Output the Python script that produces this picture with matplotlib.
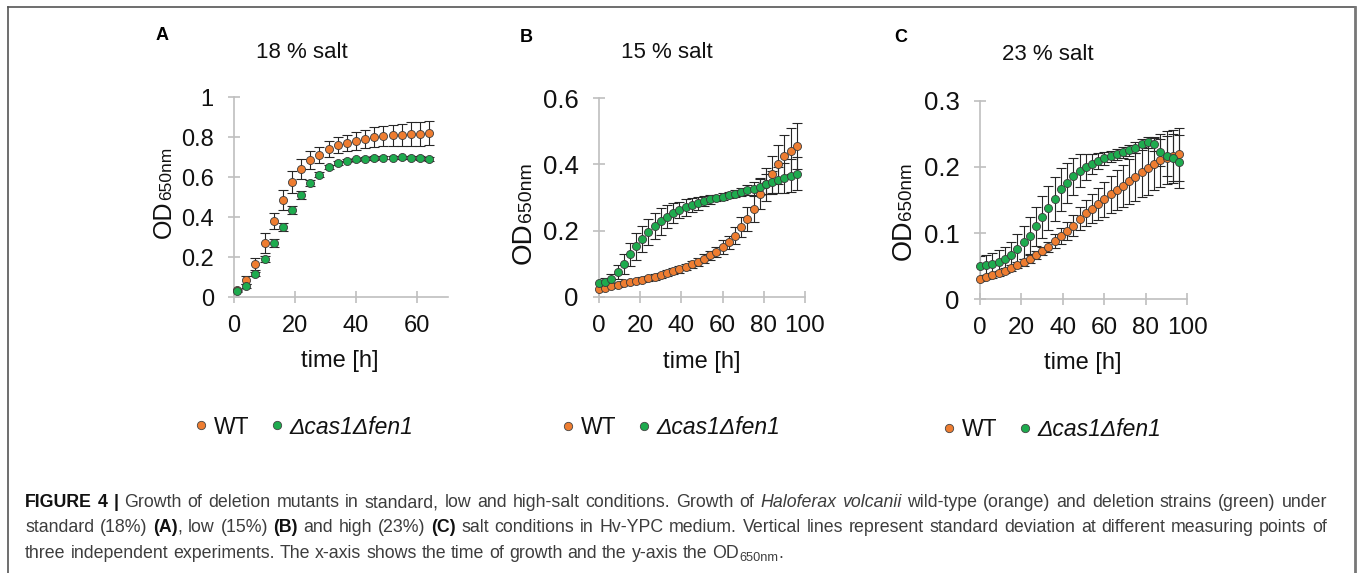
"""
Figure 4: growth curves of H. volcanii WT vs deletion strain at three salt concentrations.
"""
import matplotlib
matplotlib.use('Agg')
import matplotlib.pyplot as plt
from matplotlib.lines import Line2D

plt.rcParams['font.family'] = ['Liberation Sans', 'DejaVu Sans']

W, H = 1357, 573
ORANGE = '#ee7d31'
GREEN = '#1eab4e'
AXIS_GREY = '#bfbfbf'

# ---- data ----
t_A = [1, 4, 7, 10, 13, 16, 19, 22, 25, 28, 31, 34, 37, 40, 43, 46, 49, 52, 55, 58, 61, 64]
wt_A = [0.033, 0.084, 0.167, 0.27, 0.38, 0.485, 0.575, 0.64, 0.685, 0.71, 0.74,
        0.76, 0.77, 0.78, 0.79, 0.80, 0.805, 0.808, 0.81, 0.815, 0.816, 0.818]
wt_A_sd = [0.005, 0.02, 0.03, 0.05, 0.04, 0.05, 0.053, 0.048, 0.045, 0.042, 0.04,
           0.04, 0.042, 0.045, 0.047, 0.05, 0.052, 0.054, 0.056, 0.058, 0.06, 0.06]
del_A = [0.028, 0.055, 0.117, 0.19, 0.27, 0.35, 0.435, 0.51, 0.57, 0.612, 0.652,
         0.67, 0.682, 0.689, 0.692, 0.695, 0.697, 0.697, 0.699, 0.697, 0.695, 0.69]
del_A_sd = [0.005, 0.008, 0.01, 0.015, 0.018, 0.02, 0.02, 0.018, 0.015, 0.012, 0.01,
            0.01, 0.008, 0.008, 0.008, 0.008, 0.008, 0.008, 0.008, 0.008, 0.008, 0.008]

t_B = [0, 3, 6, 9, 12, 15, 18, 21, 24, 27, 30, 33, 36, 39, 42, 45, 48,
       51, 54, 57, 60, 63, 66, 69, 72, 75, 78, 81, 84, 87, 90, 93, 96]
wt_B = [0.022, 0.027, 0.032, 0.036, 0.04, 0.044, 0.048, 0.052, 0.056, 0.06, 0.065,
        0.071, 0.077, 0.083, 0.09, 0.098, 0.105, 0.115, 0.125, 0.135, 0.15, 0.165,
        0.185, 0.21, 0.235, 0.265, 0.31, 0.34, 0.37, 0.40, 0.425, 0.44, 0.455]
wt_B_sd = [0.005, 0.005, 0.005, 0.006, 0.006, 0.006, 0.007, 0.007, 0.008, 0.008, 0.008,
           0.009, 0.009, 0.01, 0.01, 0.011, 0.012, 0.013, 0.014, 0.016, 0.02, 0.02,
           0.025, 0.03, 0.035, 0.04, 0.045, 0.05, 0.055, 0.06, 0.065, 0.07, 0.07]
del_B = [0.04, 0.045, 0.055, 0.075, 0.10, 0.128, 0.152, 0.175, 0.195, 0.213, 0.228,
         0.242, 0.253, 0.262, 0.27, 0.277, 0.283, 0.289, 0.294, 0.299, 0.303, 0.307,
         0.312, 0.317, 0.322, 0.327, 0.333, 0.34, 0.346, 0.353, 0.36, 0.366, 0.372]
del_B_sd = [0.01, 0.012, 0.015, 0.02, 0.03, 0.035, 0.04, 0.04, 0.04, 0.04, 0.04,
            0.035, 0.03, 0.025, 0.025, 0.02, 0.02, 0.015, 0.015, 0.01, 0.01, 0.01,
            0.01, 0.012, 0.015, 0.02, 0.025, 0.03, 0.035, 0.04, 0.045, 0.05, 0.05]

t_C = t_B
wt_C = [0.031, 0.034, 0.036, 0.039, 0.043, 0.047, 0.052, 0.056, 0.061, 0.067, 0.073,
        0.079, 0.088, 0.095, 0.103, 0.111, 0.122, 0.13, 0.137, 0.144, 0.151, 0.159,
        0.165, 0.171, 0.178, 0.185, 0.192, 0.198, 0.205, 0.21, 0.214, 0.216, 0.219]
wt_C_sd = [0.003, 0.003, 0.004, 0.004, 0.004, 0.005, 0.005, 0.005, 0.006, 0.006, 0.006,
           0.008, 0.01, 0.012, 0.014, 0.016, 0.018, 0.02, 0.022, 0.024, 0.026, 0.028,
           0.03, 0.032, 0.034, 0.036, 0.038, 0.04, 0.04, 0.04, 0.04, 0.04, 0.04]
del_C = [0.051, 0.052, 0.054, 0.057, 0.061, 0.067, 0.076, 0.086, 0.096, 0.11, 0.124,
         0.138, 0.152, 0.166, 0.176, 0.186, 0.194, 0.2, 0.205, 0.209, 0.213, 0.216,
         0.219, 0.222, 0.225, 0.229, 0.234, 0.237, 0.234, 0.222, 0.216, 0.214, 0.208]
del_C_sd = [0.015, 0.015, 0.016, 0.017, 0.018, 0.02, 0.022, 0.025, 0.028, 0.03, 0.032,
            0.033, 0.033, 0.032, 0.03, 0.028, 0.025, 0.02, 0.015, 0.012, 0.01, 0.008,
            0.008, 0.008, 0.008, 0.008, 0.008, 0.008, 0.01, 0.02, 0.03, 0.035, 0.04]

xticks_A = [0, 20, 40, 60]
xticks_BC = [0, 20, 40, 60, 80, 100]
yticks_A = [0, 0.2, 0.4, 0.6, 0.8, 1.0]
ylabels_A = ['0', '0.2', '0.4', '0.6', '0.8', '1']
yticks_B = [0, 0.2, 0.4, 0.6]
ylabels_B = ['0', '0.2', '0.4', '0.6']
yticks_C = [0, 0.1, 0.2, 0.3]
ylabels_C = ['0', '0.1', '0.2', '0.3']
titles = ['18 % salt', '15 % salt', '23 % salt']
letters = ['A', 'B', 'C']
legend_labels = ['WT', '\u0394cas1\u0394fen1']

fig = plt.figure(figsize=(W / 100, H / 100), dpi=100, facecolor='white')


def fx(x):
    return x / W


def fy(y):
    return 1 - y / H


def panel(px_box, t_wt, wt, wt_sd, t_del, dl, dl_sd, xmax, xticks, yticks, ylabels, fsx, fsy):
    x0, x1, ytop, ybot = px_box
    ax = fig.add_axes([fx(x0), fy(ybot), (x1 - x0) / W, (ybot - ytop) / H])
    ax.errorbar(t_wt, wt, yerr=wt_sd, fmt='none', ecolor='#262626', elinewidth=0.8,
                capsize=3.5, capthick=0.8, zorder=2)
    ax.errorbar(t_del, dl, yerr=dl_sd, fmt='none', ecolor='#262626', elinewidth=0.8,
                capsize=3.5, capthick=0.8, zorder=2)
    ax.plot(t_wt, wt, 'o', ms=5.8, mfc=ORANGE, mec='#3a3a3a', mew=0.6, zorder=4, clip_on=False)
    ax.plot(t_del, dl, 'o', ms=5.8, mfc=GREEN, mec='#3a3a3a', mew=0.6, zorder=5, clip_on=False)
    ax.set_xlim(0, xmax)
    ax.set_ylim(0, yticks[-1])
    ax.set_xticks(xticks)
    ax.set_yticks(yticks, labels=ylabels)
    for s in ['top', 'right']:
        ax.spines[s].set_visible(False)
    for s in ['left', 'bottom']:
        ax.spines[s].set_color(AXIS_GREY)
        ax.spines[s].set_linewidth(1.2)
    ax.tick_params(direction='inout', length=9, width=1.2, color=AXIS_GREY, labelcolor='#111111')
    ax.tick_params(axis='y', pad=10, labelsize=fsy)
    ax.tick_params(axis='x', pad=8.5, labelsize=fsx)
    ax.patch.set_alpha(0)
    return ax


axA = panel((234, 447.5, 97, 297), t_A, wt_A, wt_A_sd, t_A, del_A, del_A_sd,
            70, xticks_A, yticks_A, ylabels_A, 17, 17)
axB = panel((599, 805, 98.3, 296.7), t_B, wt_B, wt_B_sd, t_B, del_B, del_B_sd,
            100, xticks_BC, yticks_B, ylabels_B, 17.5, 18.5)
axC = panel((980, 1187.3, 100.7, 299.3), t_C, wt_C, wt_C_sd, t_C, del_C, del_C_sd,
            100, xticks_BC, yticks_C, ylabels_C, 17.5, 18.5)

# titles, panel letters, axis labels
for (tx, ty), s in zip([(302, 53), (667, 53), (1048, 55)], titles):
    fig.text(fx(tx), fy(ty), s, fontsize=16, ha='center', va='center', color='#111111')
for (lx, ly), s in zip([(162, 35), (526, 38), (901, 38)], letters):
    fig.text(fx(lx), fy(ly), s, fontsize=13, fontweight='bold', ha='center', va='center')
for tx, ty in [(340, 361), (702, 362), (1083, 363)]:
    fig.text(fx(tx), fy(ty), 'time [h]', fontsize=17, ha='center', va='center', color='#111111')
for xr, yj, big, small in [(176, 200, 18, 12.5), (537, 222, 20, 14), (917, 220, 19.5, 13.5)]:
    shift = (big - small) * 100 / 72 * 0.21   # line up the baselines of both parts
    fig.text(fx(xr), fy(yj), 'OD', rotation=90, ha='right', va='top', fontsize=big, color='#111111')
    fig.text(fx(xr - shift), fy(yj), '650nm', rotation=90, ha='right', va='bottom',
             fontsize=small, color='#111111')

# legends under each panel
handles = [Line2D([], [], ls='none', marker='o', ms=6, mfc=c, mec='#444444', mew=0.6)
           for c in (ORANGE, GREEN)]
for ax, (lx, ly) in zip([axA, axB, axC], [(196.5, 427), (563.5, 428), (944.5, 430)]):
    leg = ax.legend(handles, legend_labels, loc='center left', bbox_to_anchor=(fx(lx), fy(ly)),
                    bbox_transform=fig.transFigure, ncol=2, frameon=False, fontsize=16.5,
                    handlelength=0.4, handletextpad=0.35, columnspacing=1.0,
                    borderpad=0, borderaxespad=0)
    for txt in leg.get_texts():
        txt.set_color('#111111')
    leg.get_texts()[1].set_fontstyle('italic')

# frame
fig.add_artist(Line2D([fx(8), fx(8)], [fy(7), 0], color='#555555', lw=1.2, transform=fig.transFigure))
fig.add_artist(Line2D([fx(8), fx(1355)], [fy(7), fy(7)], color='#555555', lw=1.2, transform=fig.transFigure))
fig.add_artist(Line2D([fx(1355), fx(1355)], [fy(7), 0], color='#777777', lw=2, transform=fig.transFigure))

# caption, word-by-word so lines can be justified
CAP = 12.8
STY = {'n': dict(color='#3d3d3d'),
       'b': dict(color='#111111', fontweight='bold'),
       'i': dict(color='#3d3d3d', fontstyle='italic'),
       'sub': dict(color='#3d3d3d', fontsize=CAP * 0.72)}
cap_lines = [
    [('FIGURE 4 |', 'b'),
     (' Growth of deletion mutants in standard, low and high-salt conditions. Growth of ', 'n'),
     ('Haloferax volcanii', 'i'),
     (' wild-type (orange) and deletion strains (green) under', 'n')],
    [('standard (18%) ', 'n'), ('(A)', 'b'), (', low (15%) ', 'n'), ('(B)', 'b'),
     (' and high (23%) ', 'n'), ('(C)', 'b'),
     (' salt conditions in Hv-YPC medium. Vertical lines represent standard deviation '
      'at different measuring points of', 'n')],
    [('three independent experiments. The x-axis shows the time of growth and the y-axis the OD', 'n'),
     ('650nm', 'sub'), ('.', 'n')],
]
renderer = fig.canvas.get_renderer()


def caption_line(runs, y_base, x0, x1=None):
    words = [[]]
    for txt, st in runs:
        for k, part in enumerate(txt.split(' ')):
            if k > 0:
                words.append([])
            if part:
                words[-1].append((part, st))
    words = [w for w in words if w]
    placed = []
    for w in words:
        arts = []
        for txt, st in w:
            kw = dict(fontsize=CAP)
            kw.update(STY[st])
            yy = y_base + (3 if st == 'sub' else 0)
            a = fig.text(0, fy(yy), txt, ha='left', va='baseline', **kw)
            arts.append((a, a.get_window_extent(renderer).width))
        placed.append(arts)
    widths = [sum(wd for _, wd in arts) for arts in placed]
    gap = CAP * 100 / 72 * 0.278
    if x1 is not None:
        gap = (x1 - x0 - sum(widths)) / (len(placed) - 1)
    x = x0
    for arts in placed:
        for a, wd in arts:
            a.set_x(fx(x))
            x += wd
        x += gap


caption_line(cap_lines[0], 507, 25, 1327)
caption_line(cap_lines[1], 532.5, 25, 1327)
caption_line(cap_lines[2], 558, 25)

fig.savefig('out.png', dpi=100, facecolor='white')
